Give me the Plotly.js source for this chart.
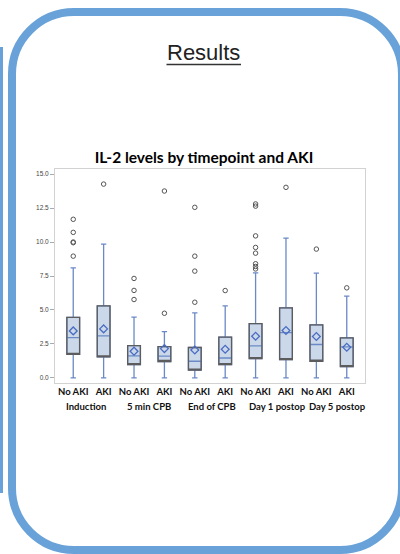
<!DOCTYPE html>
<html>
<head>
<meta charset="utf-8">
<script src="https://cdn.plot.ly/plotly-3.0.1.min.js"></script>
<style>
  html, body { margin: 0; padding: 0; background: #fff; }
  #chart { width: 400px; height: 554px; }
</style>
</head>
<body>
<div id="chart"></div>
<script>
// ---- data ----
const tickLabels = ['No AKI', 'AKI', 'No AKI', 'AKI', 'No AKI', 'AKI', 'No AKI', 'AKI', 'No AKI', 'AKI'];
const groups = ['Induction', '5 min CPB', 'End of CPB', 'Day 1 postop', 'Day 5 postop'];
const q1Values     = [1.73, 1.55, 0.98, 1.21, 0.57, 0.98, 1.43, 1.35, 1.23, 0.84];
const medianValues = [2.97, 3.09, 1.62, 1.60, 1.23, 1.47, 2.36, 3.34, 2.46, 2.28];
const q3Values     = [4.46, 5.30, 2.38, 2.30, 2.24, 3.00, 4.00, 5.15, 3.90, 2.95];
const lowerValues  = [0, 0, 0, 0, 0, 0, 0, 0, 0, 0];
const upperValues  = [8.10, 9.85, 4.47, 3.41, 4.79, 5.30, 7.73, 10.29, 7.71, 6.02];
const meanValues   = [3.46, 3.61, 1.97, 2.16, 2.06, 2.11, 3.07, 3.49, 3.05, 2.26];
const outlierValues = [
  [11.67, 10.71, 10.00, 9.95, 8.96],
  [14.26],
  [7.32, 6.44, 5.77],
  [13.75, 4.76],
  [12.55, 8.96, 7.86, 5.57],
  [6.43],
  [12.80, 12.64, 10.45, 9.60, 9.18, 8.40, 8.20, 8.02],
  [14.02],
  [9.48],
  [6.63]
];
const yTicks = [0, 2.5, 5, 7.5, 10, 12.5, 15];
const headerText = 'Results';
const titleText = 'IL-2 levels by timepoint and AKI';

// ---- build traces ----
const positions = tickLabels.map((_, i) => i);
const outX = [], outY = [];
outlierValues.forEach((arr, i) => arr.forEach(v => { outX.push(i); outY.push(v); }));

const boxBlue = {
  type: 'box', x: positions,
  q1: q1Values, median: medianValues, q3: q3Values,
  lowerfence: lowerValues, upperfence: upperValues,
  boxpoints: false, width: 0.42, whiskerwidth: 0.42,
  fillcolor: '#cbd8ea', line: { color: '#6b89c6', width: 1.3 },
  hoverinfo: 'skip', showlegend: false
};
const boxOutline = {
  type: 'box', x: positions,
  q1: q1Values, median: q1Values, q3: q3Values,
  lowerfence: q1Values, upperfence: q3Values,
  boxpoints: false, width: 0.42, whiskerwidth: 1,
  fillcolor: 'rgba(0,0,0,0)', line: { color: '#5c5c5c', width: 1.3 },
  hoverinfo: 'skip', showlegend: false
};
const means = {
  type: 'scatter', mode: 'markers', x: positions, y: meanValues,
  marker: { symbol: 'diamond-open', size: 6, color: '#4a6cc2', line: { width: 1.3 } },
  hoverinfo: 'skip', showlegend: false
};
const outliers = {
  type: 'scatter', mode: 'markers', x: outX, y: outY,
  marker: { symbol: 'circle-open', size: 4.5, color: '#555', line: { width: 1 } },
  hoverinfo: 'skip', showlegend: false
};

// ---- page geometry (pixels -> paper) ----
const W = 400, H = 554, ML = 55, MR = 35, MT = 169, MB = 171;
const PW = W - ML - MR, PH = H - MT - MB;
const px = x => (x - ML) / PW;
const py = y => (H - MB - y) / PH;
const P = (x, y) => px(x).toFixed(5) + ',' + py(y).toFixed(5);

function roundRect(x0, y0, x1, y1, r) {
  const k = r * 0.5523;
  return 'M' + P(x0 + r, y0) +
    ' L' + P(x1 - r, y0) +
    ' C' + P(x1 - r + k, y0) + ' ' + P(x1, y0 + r - k) + ' ' + P(x1, y0 + r) +
    ' L' + P(x1, y1 - r) +
    ' C' + P(x1, y1 - r + k) + ' ' + P(x1 - r + k, y1) + ' ' + P(x1 - r, y1) +
    ' L' + P(x0 + r, y1) +
    ' C' + P(x0 + r - k, y1) + ' ' + P(x0, y1 - r + k) + ' ' + P(x0, y1 - r) +
    ' L' + P(x0, y0 + r) +
    ' C' + P(x0, y0 + r - k) + ' ' + P(x0 + r - k, y0) + ' ' + P(x0 + r, y0) + ' Z';
}

const frameBlue = '#68a2d8';
const shapes = [
  { type: 'path', xref: 'paper', yref: 'paper', path: roundRect(12, 12, 402, 550, 62),
    line: { color: frameBlue, width: 8 }, layer: 'above' },
  { type: 'line', xref: 'paper', yref: 'paper', x0: px(1.5), x1: px(1.5), y0: py(47), y1: py(493),
    line: { color: frameBlue, width: 3 } },
  { type: 'line', xref: 'paper', yref: 'paper', x0: px(166.5), x1: px(241), y0: py(64.5), y1: py(64.5),
    line: { color: '#333', width: 1.4 } }
];

const annotations = [
  { text: headerText, xref: 'paper', yref: 'paper', x: px(203.7), y: py(52.5),
    xanchor: 'center', yanchor: 'middle', showarrow: false,
    font: { family: 'Liberation Sans, Arial, sans-serif', size: 22, color: '#222' } }
].concat(groups.map((g, i) => ({
  text: g, xref: 'x', yref: 'paper', x: 2 * i, y: py(406.5),
  xanchor: 'left', yanchor: 'middle', xshift: -9, showarrow: false,
  font: { family: 'Lato, sans-serif', size: 9.5, color: '#111', weight: 'bold' }
})));

const layout = {
  width: W, height: H, autosize: false,
  margin: { l: ML, r: MR, t: MT, b: MB, pad: 0 },
  paper_bgcolor: 'rgba(0,0,0,0)', plot_bgcolor: '#fff',
  showlegend: false,
  title: { text: '<b>' + titleText + '</b>', xref: 'container', yref: 'container',
    x: 204 / W, xanchor: 'center', y: 1 - 157.5 / H, yanchor: 'middle',
    font: { family: 'Lato, sans-serif', size: 15.5, color: '#000' } },
  xaxis: {
    range: [-0.6, 9.6], tickmode: 'array', tickvals: positions, ticktext: tickLabels,
    ticks: '', showgrid: false, zeroline: false,
    showline: true, mirror: true, linecolor: '#d2d2d2', linewidth: 1,
    tickfont: { family: 'Lato, sans-serif', size: 9.5, color: '#111', weight: 'bold' }
  },
  yaxis: {
    range: [-0.37, 15.37], tickmode: 'array', tickvals: yTicks,
    ticktext: yTicks.map(v => v.toFixed(1)),
    ticks: 'outside', ticklen: 4, tickcolor: '#aaa', tickwidth: 1,
    showgrid: false, zeroline: false,
    showline: true, mirror: true, linecolor: '#d2d2d2', linewidth: 1,
    tickfont: { family: 'Liberation Sans, Arial, sans-serif', size: 6.5, color: '#444' }
  },
  shapes: shapes,
  annotations: annotations
};

Plotly.newPlot('chart', [boxBlue, boxOutline, means, outliers], layout, { displayModeBar: false, staticPlot: true });
</script>
</body>
</html>
